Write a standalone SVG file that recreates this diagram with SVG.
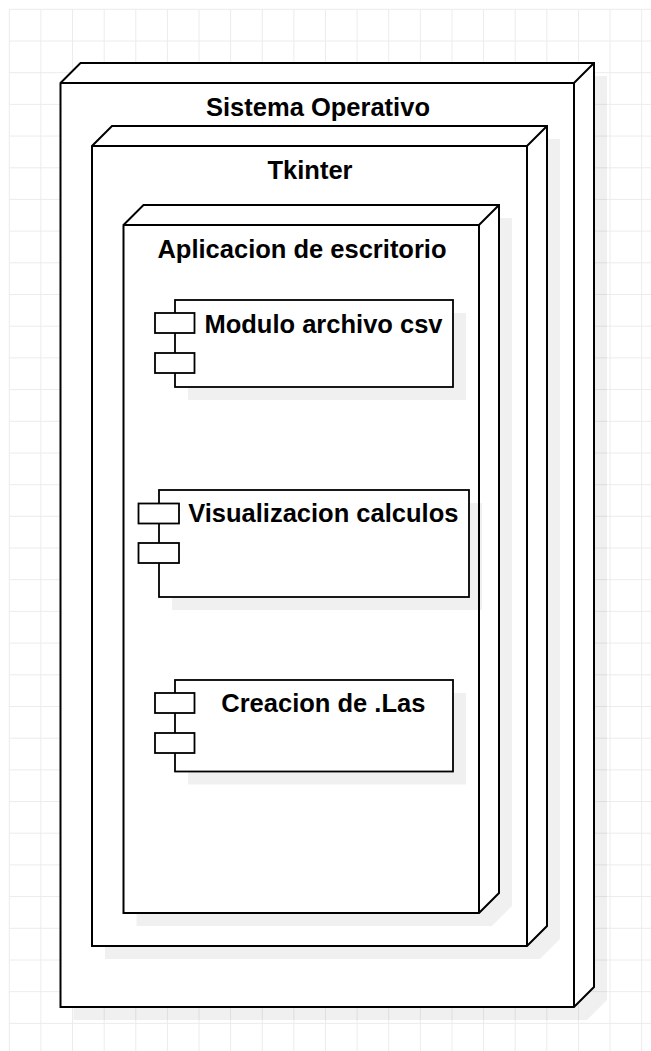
<svg xmlns="http://www.w3.org/2000/svg" width="651" height="1051" viewBox="0 0 651 1051">
<defs>
<style>
.grid{fill:none;stroke:#ececec;stroke-width:1}
.shadow{fill:#000;fill-opacity:0.06;stroke:none}
.body{fill:#fff;stroke:#000;stroke-width:2;stroke-linejoin:miter}
.edge{fill:none;stroke:#000;stroke-width:2}
.comp{fill:#fff;stroke:#000;stroke-width:1.8}
.lbl{font-family:"Liberation Sans",Arial,Helvetica,sans-serif;font-weight:bold;font-size:25.5px;fill:#000;text-anchor:middle}
</style>
</defs>
<rect x="0" y="0" width="651" height="1051" fill="#fff"/>
<path class="grid" d="M9.3,9.3V1051M40.9,9.3V1051M72.5,9.3V1051M104.2,9.3V1051M135.8,9.3V1051M167.4,9.3V1051M199,9.3V1051M230.6,9.3V1051M262.3,9.3V1051M293.9,9.3V1051M325.5,9.3V1051M357.1,9.3V1051M388.7,9.3V1051M420.4,9.3V1051M452,9.3V1051M483.6,9.3V1051M515.2,9.3V1051M546.8,9.3V1051M578.5,9.3V1051M610.1,9.3V1051M641.7,9.3V1051
M9.3,9.3H651M9.3,41H651M9.3,72.7H651M9.3,104.4H651M9.3,136.1H651M9.3,167.8H651M9.3,199.4H651M9.3,231.1H651M9.3,262.8H651M9.3,294.5H651M9.3,326.2H651M9.3,357.9H651M9.3,389.6H651M9.3,421.3H651M9.3,453H651M9.3,484.7H651M9.3,516.3H651M9.3,548H651M9.3,579.7H651M9.3,611.4H651M9.3,643.1H651M9.3,674.8H651M9.3,706.5H651M9.3,738.2H651M9.3,769.9H651M9.3,801.6H651M9.3,833.2H651M9.3,864.9H651M9.3,896.6H651M9.3,928.3H651M9.3,960H651M9.3,991.7H651M9.3,1023.4H651"/>

<g id="node-sistema-operativo">
<path class="shadow" d="M73.5,96 L93.5,76 L607,76 L607,1000 L587,1020 L73.5,1020 Z"/>
<path class="body" d="M60.5,83 L80.5,63 L594,63 L594,987 L574,1007 L60.5,1007 Z"/>
<path class="edge" d="M60.5,83 H574 L594,63 M574,83 V1007"/>
<text class="lbl" x="318" y="116">Sistema Operativo</text>
</g>

<g id="node-tkinter">
<path class="shadow" d="M105,159 L125,139 L560,139 L560,939 L540,959 L105,959 Z"/>
<path class="body" d="M92,146 L112,126 L547,126 L547,926 L527,946 L92,946 Z"/>
<path class="edge" d="M92,146 H527 L547,126 M527,146 V946"/>
<text class="lbl" x="310" y="179">Tkinter</text>
</g>

<g id="node-aplicacion-de-escritorio">
<path class="shadow" d="M136.5,238 L156.5,218 L512,218 L512,906 L492,926 L136.5,926 Z"/>
<path class="body" d="M123.5,225 L143.5,205 L499,205 L499,893 L479,913 L123.5,913 Z"/>
<path class="edge" d="M123.5,225 H479 L499,205 M479,225 V913"/>
<text class="lbl" x="302" y="258">Aplicacion de escritorio</text>
</g>

<g id="comp-modulo-archivo-csv">
<rect class="shadow" x="188" y="313" width="278" height="87"/>
<rect class="comp" x="175" y="300" width="278" height="87"/>
<rect class="comp" x="155" y="313" width="39.5" height="20"/>
<rect class="comp" x="155" y="353" width="39.5" height="20"/>
<text class="lbl" x="323.5" y="333">Modulo archivo csv</text>
</g>

<g id="comp-visualizacion-calculos">
<rect class="shadow" x="172" y="503" width="310" height="107"/>
<rect class="comp" x="159" y="490" width="310" height="107"/>
<rect class="comp" x="138.5" y="503.5" width="40.5" height="20"/>
<rect class="comp" x="138.5" y="543" width="40.5" height="20"/>
<text class="lbl" x="323.3" y="522">Visualizacion calculos</text>
</g>

<g id="comp-creacion-de-las">
<rect class="shadow" x="188" y="693" width="278" height="91.5"/>
<rect class="comp" x="175" y="680" width="278" height="91.5"/>
<rect class="comp" x="155" y="693" width="39.5" height="20"/>
<rect class="comp" x="155" y="733" width="39.5" height="20"/>
<text class="lbl" x="323.3" y="711.5">Creacion de .Las</text>
</g>

<g id="connectors"></g>
</svg>
